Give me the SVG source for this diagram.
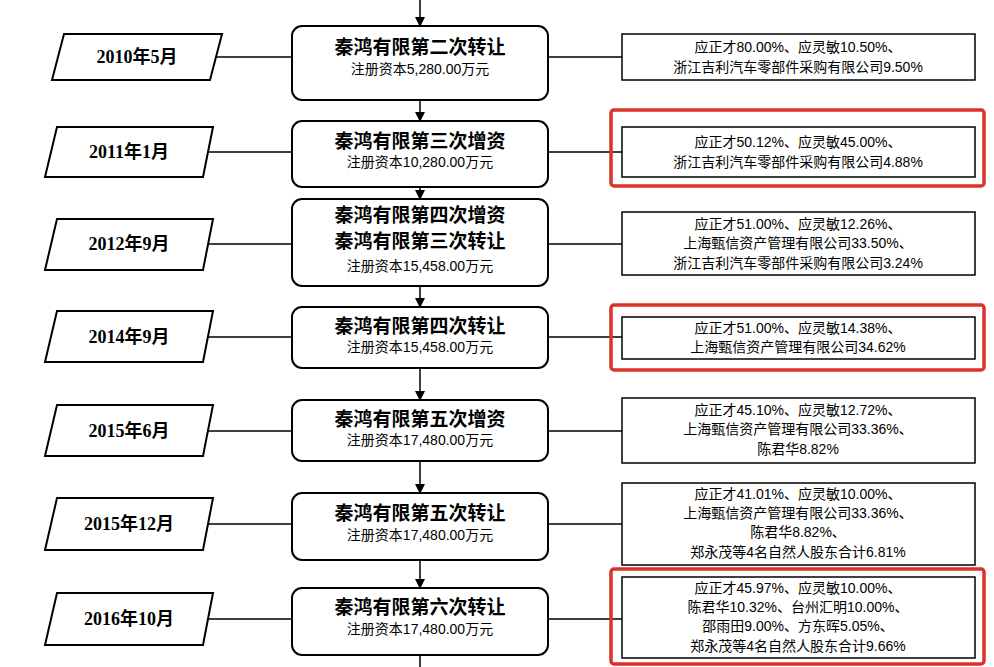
<svg xmlns="http://www.w3.org/2000/svg" width="994" height="667" viewBox="0 0 994 667">
<style>
.c{fill:#fff;stroke:#000;stroke-width:2}
.p{fill:#fff;stroke:#000;stroke-width:2}
.r{fill:#fff;stroke:#000;stroke-width:1.5}
.hl{fill:none;stroke:#d9332b;stroke-width:3.5}
.t{font-family:"Liberation Serif","Noto Sans CJK SC",serif;font-weight:bold;font-size:19px;text-anchor:middle}
.s{font-family:"Liberation Sans","Noto Sans CJK SC",sans-serif;font-size:14px;text-anchor:middle}
.d{font-family:"Liberation Serif","Noto Sans CJK SC",serif;font-weight:bold;font-size:18px;text-anchor:middle}
.ln{stroke:#000;stroke-width:1.5;fill:none}
</style>
<defs><marker id="a" markerWidth="10" markerHeight="10" refX="9" refY="5" orient="auto" markerUnits="userSpaceOnUse"><path d="M0,0L10,5L0,10z"/></marker></defs>
<g id="connectors">
<path class="ln" marker-end="url(#a)" d="M420,0V26"/>
<path class="ln" marker-end="url(#a)" d="M420,100V121"/>
<path class="ln" marker-end="url(#a)" d="M420,187V199"/>
<path class="ln" marker-end="url(#a)" d="M420,286V307"/>
<path class="ln" marker-end="url(#a)" d="M420,368V400"/>
<path class="ln" marker-end="url(#a)" d="M420,461V493"/>
<path class="ln" marker-end="url(#a)" d="M420,560V588"/>
<path class="ln" d="M420,655V667"/>
<path class="ln" d="M214,57H292M548,57H622M208,152H292M548,152H622M208,244H292M548,244H622M208,337H292M548,337H622M208,431H292M548,431H622M208,524H292M548,524H622M208,619H292M548,619H622"/>
</g>
<g id="n1"><polygon class="p" points="64,34 222,34 210,80 52,80"/><text class="d" x="137" y="63">2010年5月</text>
<rect class="c" x="292" y="26" width="256" height="74" rx="10"/><text class="t" x="420" y="54">秦鸿有限第二次转让</text><text class="s" x="420" y="74">注册资本5,280.00万元</text>
<rect class="r" x="622" y="34" width="353" height="46"/><text class="s" x="798" y="52">应正才80.00%、应灵敏10.50%、</text><text class="s" x="798" y="72">浙江吉利汽车零部件采购有限公司9.50%</text></g>
<g id="n2"><polygon class="p" points="57,127 213,127 203,177 45,177"/><text class="d" x="129" y="158">2011年1月</text>
<rect class="c" x="292" y="121" width="256" height="66" rx="10"/><text class="t" x="420" y="148">秦鸿有限第三次增资</text><text class="s" x="420" y="167">注册资本10,280.00万元</text>
<rect class="hl" x="611" y="110" width="373" height="76" rx="3"/>
<rect class="r" x="622" y="127" width="353" height="50"/><text class="s" x="798" y="147">应正才50.12%、应灵敏45.00%、</text><text class="s" x="798" y="167">浙江吉利汽车零部件采购有限公司4.88%</text></g>
<g id="n3"><polygon class="p" points="57,219 213,219 203,270 45,270"/><text class="d" x="129" y="250">2012年9月</text>
<rect class="c" x="292" y="199" width="256" height="87" rx="10"/><text class="t" x="420" y="222">秦鸿有限第四次增资</text><text class="t" x="420" y="248">秦鸿有限第三次转让</text><text class="s" x="420" y="271">注册资本15,458.00万元</text>
<rect class="r" x="622" y="212" width="353" height="63"/><text class="s" x="798" y="229">应正才51.00%、应灵敏12.26%、</text><text class="s" x="798" y="248">上海甄信资产管理有限公司33.50%、</text><text class="s" x="798" y="268">浙江吉利汽车零部件采购有限公司3.24%</text></g>
<g id="n4"><polygon class="p" points="57,311 213,311 203,362 45,362"/><text class="d" x="129" y="343">2014年9月</text>
<rect class="c" x="292" y="307" width="256" height="61" rx="10"/><text class="t" x="420" y="333">秦鸿有限第四次转让</text><text class="s" x="420" y="352">注册资本15,458.00万元</text>
<rect class="hl" x="611" y="305" width="373" height="65" rx="3"/>
<rect class="r" x="622" y="317" width="353" height="42"/><text class="s" x="798" y="333">应正才51.00%、应灵敏14.38%、</text><text class="s" x="798" y="352">上海甄信资产管理有限公司34.62%</text></g>
<g id="n5"><polygon class="p" points="57,405 213,405 203,456 45,456"/><text class="d" x="129" y="437">2015年6月</text>
<rect class="c" x="292" y="400" width="256" height="61" rx="10"/><text class="t" x="420" y="426">秦鸿有限第五次增资</text><text class="s" x="420" y="445">注册资本17,480.00万元</text>
<rect class="r" x="622" y="398" width="353" height="65"/><text class="s" x="798" y="415">应正才45.10%、应灵敏12.72%、</text><text class="s" x="798" y="434">上海甄信资产管理有限公司33.36%、</text><text class="s" x="798" y="454">陈君华8.82%</text></g>
<g id="n6"><polygon class="p" points="57,498 213,498 203,550 45,550"/><text class="d" x="129" y="530">2015年12月</text>
<rect class="c" x="292" y="493" width="256" height="67" rx="10"/><text class="t" x="420" y="520">秦鸿有限第五次转让</text><text class="s" x="420" y="540">注册资本17,480.00万元</text>
<rect class="r" x="622" y="483" width="353" height="82"/><text class="s" x="798" y="499">应正才41.01%、应灵敏10.00%、</text><text class="s" x="798" y="518">上海甄信资产管理有限公司33.36%、</text><text class="s" x="798" y="537">陈君华8.82%、</text><text class="s" x="798" y="557">郑永茂等4名自然人股东合计6.81%</text></g>
<g id="n7"><polygon class="p" points="57,593 213,593 203,645 45,645"/><text class="d" x="129" y="625">2016年10月</text>
<rect class="c" x="292" y="588" width="256" height="67" rx="10"/><text class="t" x="420" y="614">秦鸿有限第六次转让</text><text class="s" x="420" y="634">注册资本17,480.00万元</text>
<rect class="hl" x="611" y="569" width="373" height="95" rx="3"/>
<rect class="r" x="622" y="577" width="353" height="81"/><text class="s" x="798" y="593">应正才45.97%、应灵敏10.00%、</text><text class="s" x="798" y="612">陈君华10.32%、台州汇明10.00%、</text><text class="s" x="798" y="631">邵雨田9.00%、方东晖5.05%、</text><text class="s" x="798" y="651">郑永茂等4名自然人股东合计9.66%</text></g>
</svg>
